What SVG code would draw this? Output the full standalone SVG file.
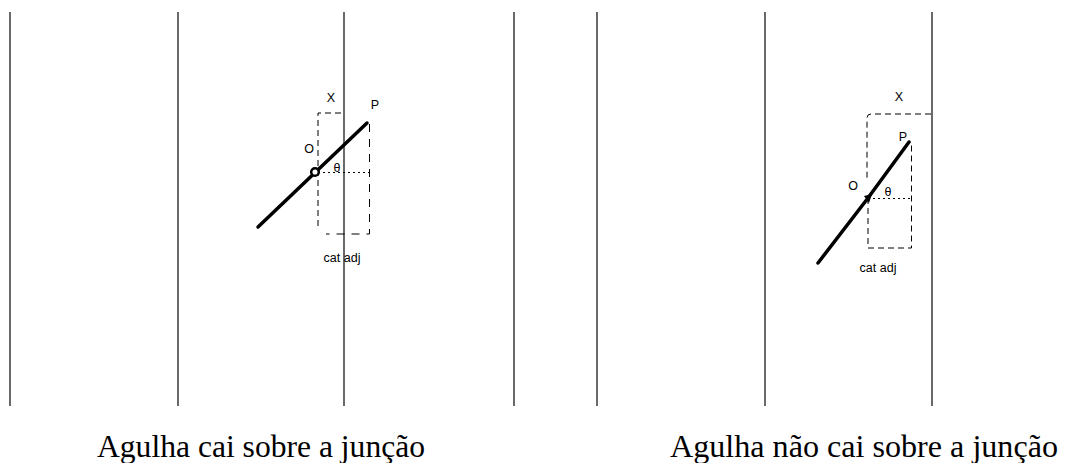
<svg xmlns="http://www.w3.org/2000/svg" width="1090" height="463" viewBox="0 0 1090 463">
<style>
.wall{stroke:#1a1a1a;stroke-width:1.3;fill:none}
.dash{stroke:#000;stroke-width:1;fill:none;stroke-dasharray:6 4}
.dashl{stroke:#000;stroke-width:1;fill:none;stroke-dasharray:8 7}
.dot{stroke:#000;stroke-width:1;fill:none;stroke-dasharray:2 3}
.needle{stroke:#000;stroke-width:3.5;fill:none;stroke-linecap:round}
.lbl{font-family:"Liberation Sans",Arial,sans-serif;font-size:12.5px;fill:#000}
.cap{font-family:"Liberation Serif","Times New Roman",serif;font-size:32px;fill:#000}
</style>
<rect width="1090" height="463" fill="#fff"/>
<g id="walls">
<line class="wall" x1="10" y1="12" x2="10" y2="406"/>
<line class="wall" x1="178" y1="12" x2="178" y2="406"/>
<line class="wall" x1="344" y1="12" x2="344" y2="406"/>
<line class="wall" x1="514" y1="12" x2="514" y2="406"/>
<line class="wall" x1="597" y1="12" x2="597" y2="406"/>
<line class="wall" x1="765" y1="12" x2="765" y2="406"/>
<line class="wall" x1="932" y1="12" x2="932" y2="406"/>
</g>
<g id="left-diagram">
<path class="dash" d="M341 113 H318 V230"/>
<path class="dashl" d="M369.5 124 V234 H326"/>
<line class="dot" x1="318" y1="172.5" x2="369" y2="172.5"/>
<line class="needle" x1="258" y1="227" x2="367" y2="123"/>
<circle cx="315" cy="172" r="3.8" fill="#fff" stroke="#000" stroke-width="2.5"/>
<text class="lbl" x="331" y="102" text-anchor="middle">X</text>
<text class="lbl" x="375" y="109" text-anchor="middle">P</text>
<text class="lbl" x="309" y="153" text-anchor="middle">O</text>
<text class="lbl" x="337" y="172" text-anchor="middle">θ</text>
<text class="lbl" x="342" y="262" text-anchor="middle">cat adj</text>
</g>
<g id="right-diagram">
<path class="dash" d="M931 114 H871 Q867 114 867 118 V180"/>
<path class="dash" d="M868 198 V248 H911.5 V143"/>
<line class="dot" x1="868" y1="198.5" x2="911" y2="198.5"/>
<path class="needle" d="M818 263 Q842 232 868 198 L909 142"/>
<path d="M864 196 L872 194 L869 203 Z" fill="#000"/>
<text class="lbl" x="899" y="101" text-anchor="middle">X</text>
<text class="lbl" x="903" y="141" text-anchor="middle">P</text>
<text class="lbl" x="853" y="190" text-anchor="middle">O</text>
<text class="lbl" x="888" y="196" text-anchor="middle">θ</text>
<text class="lbl" x="878" y="272" text-anchor="middle">cat adj</text>
</g>
<g id="captions">
<text class="cap" x="97" y="457" textLength="328" lengthAdjust="spacingAndGlyphs">Agulha cai sobre a junção</text>
<text class="cap" x="670" y="457" textLength="388" lengthAdjust="spacingAndGlyphs">Agulha não cai sobre a junção</text>
</g>
</svg>
